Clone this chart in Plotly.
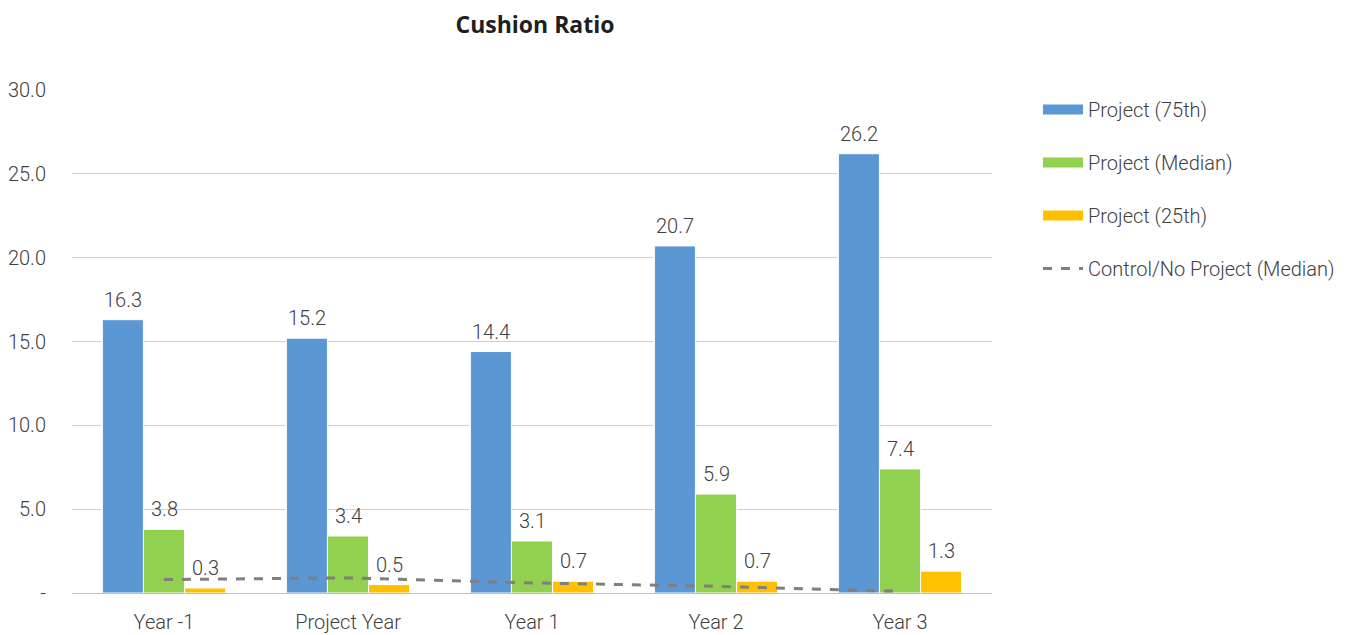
import plotly.graph_objects as go

categories = ["Year -1", "Project Year", "Year 1", "Year 2", "Year 3"]
p75 = [16.3, 15.2, 14.4, 20.7, 26.2]
median = [3.8, 3.4, 3.1, 5.9, 7.4]
p25 = [0.3, 0.5, 0.7, 0.7, 1.3]
control = [0.8, 0.9, 0.6, 0.4, 0.1]
ytickvals = [0, 5, 10, 15, 20, 25, 30]
yticktext = ["-", "5.0", "10.0", "15.0", "20.0", "25.0", "30.0"]

names = ["Project (75th)", "Project (Median)", "Project (25th)"]
colors = ["#5B96D5", "#92D050", "#FFC000"]
FONT = "Roboto"
TXT = "#404040"
FS = 20

W, H = 1348, 627
fig = go.Figure()
for i, (name, vals, col) in enumerate(zip(names, [p75, median, p25], colors)):
    fig.add_trace(go.Bar(
        x=categories, y=vals, name=name, marker=dict(color=col, line=dict(color="white", width=1)),
        showlegend=False))
    for c, v in zip(categories, vals):
        fig.add_annotation(x=c, y=v, text=f"{v:.1f}", showarrow=False, xshift=(i - 1) * 41.1,
                           yshift=20, yanchor="middle",
                           font=dict(size=FS, color=TXT, family=FONT, weight=300))
fig.add_trace(go.Scatter(
    x=categories, y=control, mode="lines", name="Control/No Project (Median)",
    line=dict(color="#7F7F7F", width=3, dash="dash"), showlegend=False))

# legend entries
for i, (name, col) in enumerate(zip(names, colors)):
    fig.add_trace(go.Scatter(x=[None], y=[None], mode="lines", name=name,
                             line=dict(color=col, width=10), legendgroup=str(i)))
fig.add_trace(go.Scatter(x=[None], y=[None], mode="lines", name="Control/No Project (Median)",
                         line=dict(color="#7F7F7F", width=3, dash="dash"), legendgroup="3"))

fig.update_layout(
    width=W, height=H,
    margin=dict(l=64, r=W - 984, t=82, b=H - 585),
    paper_bgcolor="white", plot_bgcolor="white",
    title=dict(text="<b>Cushion Ratio</b>", x=527 / W, xanchor="center", y=1 - 17 / H, yanchor="middle",
               font=dict(family="Open Sans", size=23, color="#202020")),
    font=dict(family=FONT, color=TXT, size=FS, weight=300),
    barmode="group", bargap=0.33, bargroupgap=0.0,
    legend=dict(x=1.05, xanchor="left", y=1.0, yanchor="top",
                font=dict(size=FS, color=TXT, family=FONT, weight=300),
                tracegroupgap=24, traceorder="grouped", itemwidth=40, bgcolor="rgba(0,0,0,0)"),
    xaxis=dict(showline=True, linecolor="#BFBFBF", linewidth=1, ticks="", ticklabelstandoff=11,
               automargin=False,
               tickfont=dict(size=FS, color=TXT, family=FONT, weight=300)),
    yaxis=dict(range=[0, 30], tickvals=ytickvals, ticktext=yticktext, showgrid=True,
               gridcolor="#D0D0D0", gridwidth=1, zeroline=False, ticks="", automargin=False,
               tickfont=dict(size=FS, color=TXT, family=FONT, weight=300), ticklabelstandoff=25),
)
fig.write_html("out.html")
